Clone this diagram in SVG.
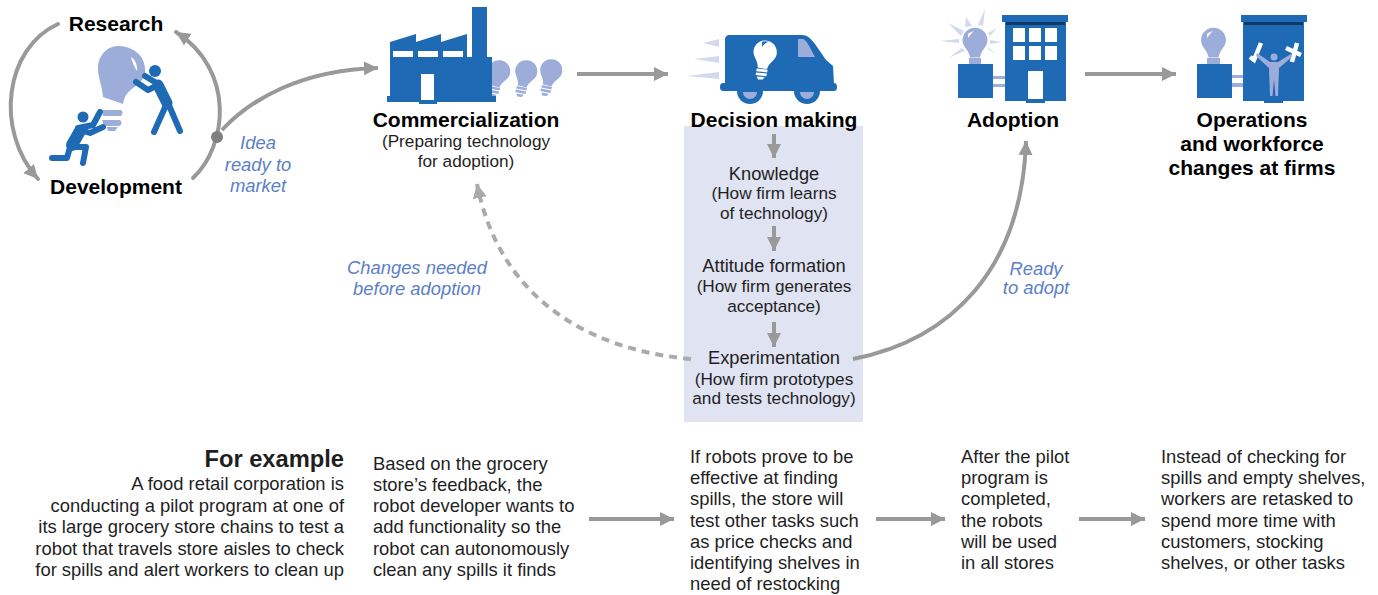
<svg xmlns="http://www.w3.org/2000/svg" width="1378" height="595" viewBox="0 0 1378 595">
<style>
text{font-family:"Liberation Sans",Arial,sans-serif;fill:#1f1f1f}
.h{font-size:21px;font-weight:700;fill:#000;text-anchor:middle}
.s{font-size:17.200px;text-anchor:middle}
.k{font-size:18.300px;text-anchor:middle}
.i{font-size:18.400px;font-style:italic;fill:#5b7fc7;text-anchor:middle}
.b{font-size:18.400px}
.r{font-size:18.400px;text-anchor:end}
.c{fill:none;stroke:#999;stroke-width:4}
.ic{fill:#1f6ab5}
.lt{fill:#9cadd9}
.w{fill:#fff}
.ray{fill:#d3d9ee}
.st{fill:none;stroke:#1f6ab5;stroke-linecap:round;stroke-linejoin:round}
</style>
<defs>
<marker id="a" markerUnits="userSpaceOnUse" markerWidth="16" markerHeight="16" refX="14" refY="8" orient="auto"><path d="M0,1L14,8L0,15Z" fill="#999"/></marker>
<marker id="d" markerUnits="userSpaceOnUse" markerWidth="16" markerHeight="16" refX="14" refY="8" orient="auto"><path d="M0,1L14,8L0,15Z" fill="#aaa"/></marker>
<path id="bulbtop" d="M0,-16C-9,-16-15,-9-15,-1C-15,6-9,10-7,16C-6.500,18-6,19-6,20L6,20C6,19,6.500,18,7,16C9,10,15,6,15,-1C15,-9,9,-16,0,-16Z"/>
<path id="bulbbase" d="M-7,21.500L7,20.500L7,24L-7,25ZM-7,26.500L7,25.500L7,29L-7,30ZM-5,31.500L5,30.500L3,34L-3,35Z"/>
</defs>
<rect x="684" y="126" width="179" height="296" fill="#dfe3f2"/>
<g id="connectors">
<path class="c" d="M58,24C5,48-6,130 38,179" marker-end="url(#a)" stroke-linecap="round"/>
<path class="c" d="M193,178C228,145 235,70 176,32" marker-end="url(#a)" stroke-linecap="round"/>
<path class="c" d="M222,130C250,100 300,70 378,68" marker-end="url(#a)"/>
<path class="c" d="M577,74L668,74" marker-end="url(#a)"/>
<path class="c" d="M1085,74L1176,74" marker-end="url(#a)"/>
<path class="c" d="M589,519L674,519" marker-end="url(#a)"/>
<path class="c" d="M876,519L945,519" marker-end="url(#a)"/>
<path class="c" d="M1079,519L1145,519" marker-end="url(#a)"/>
<path class="c" style="stroke:#aaa" d="M691,359C590,350 500,300 477,184" stroke-dasharray="8 6" marker-end="url(#d)"/>
<path class="c" d="M853,359C950,340 1022,270 1026,141" marker-end="url(#a)"/>
<path class="c" d="M774,134L774,158" marker-end="url(#a)"/>
<path class="c" d="M774,226L774,251" marker-end="url(#a)"/>
<path class="c" d="M774,322L774,347" marker-end="url(#a)"/>
<circle cx="217" cy="137" r="6" fill="#808080"/>
</g>
<g id="rd">
<text class="h" x="116" y="31">Research</text>
<text class="h" x="116" y="194">Development</text>
<path class="lt" d="M120,46C108,45 98,55 98,68C98,78 102,85 103,97L123,104C124,96 128,92 133,88C142,82 146,76 145,68C144,55 133,47 120,46Z"/>
<path class="w" d="M131,57C134,58 138,65 137,71C135,68 132,62 131,57Z"/>
<path class="lt" d="M103,110L121,110Q124,112.500 121,116L103,116ZM102,120L120,120Q123,122.500 120,126L104,126ZM107,127L118,127L115,131L108,131Z"/>
<circle class="ic" cx="155" cy="71" r="6"/>
<path class="st" stroke-width="11" d="M158,85L167,103"/>
<path class="st" stroke-width="6" d="M136,82L148,90L158,85M145,76L158,84M167,103L154,132M168,103L180,131"/>
<circle class="ic" cx="83" cy="117" r="5.500"/>
<path class="st" stroke-width="12" d="M80,131L72,145"/>
<path class="st" stroke-width="6" d="M78,128L93,125L100,112M80,130L90,133L103,127M70,147L67,158L52,158M70,147L86,147L83,163"/>
</g>
<g id="idea"><text class="i" x="258" y="149">Idea</text><text class="i" x="258" y="171">ready to</text><text class="i" x="258" y="192">market</text></g>
<g id="commercialization">
<g class="lt"><g transform="translate(499,72) rotate(15) scale(.74)"><use href="#bulbtop"/><use href="#bulbbase"/></g><g transform="translate(526,72) rotate(15) scale(.74)"><use href="#bulbtop"/><use href="#bulbbase"/></g><g transform="translate(551,71) rotate(15) scale(.74)"><use href="#bulbtop"/><use href="#bulbbase"/></g></g>
<path class="ic" d="M390,42L416,34L416,42L441,34L441,42L467,34L467,57L472,57L472,7L487,7L487,57L492,57L492,96L496,96L496,102L437,102L437,104L419,104L419,102L387,102L387,96L390,96Z"/>
<path class="w" d="M393,51H413V57H393ZM418,51H438V57H418ZM443,51H463V57H443ZM421,74H434V100H421Z"/>
<text class="h" x="466" y="127">Commercialization</text>
<text class="s" x="466" y="147">(Preparing technology</text><text class="s" x="466" y="167">for adoption)</text>
</g>
<g id="decision">
<path class="ray" d="M703,43L719,39L719,47ZM694,59L719,56L719,63ZM687,76L719,72L719,79Z"/>
<path class="ic" d="M729,35L802,35C808,35,811,39,815,44L826,60L833,66L834,84L725,84L725,39C725,37,727,35,729,35Z"/>
<path class="ic" d="M723,83H834Q837,83 837,87Q837,91 834,91H723Q720,91 720,87Q720,83 723,83Z"/>
<circle class="ic" cx="750" cy="91" r="13"/><circle class="ic" cx="807" cy="91" r="13"/>
<path class="lt" d="M743,92A7,7,0,0,0,757,92ZM800,92A7,7,0,0,0,814,92Z"/>
<path class="lt" d="M798,39L803,39C807,40,811,50,815,57L798,57Z"/>
<g class="w" transform="translate(765,53) rotate(10) scale(.78)"><use href="#bulbtop"/><use href="#bulbbase"/></g>
<path class="ic" d="M762,42C764,41,767,41,769,42C766,42,764,44,762,47Z"/>
<text class="h" x="774" y="127">Decision making</text>
<text class="k" x="774" y="180">Knowledge</text>
<text class="s" x="774" y="199">(How firm learns</text><text class="s" x="774" y="219">of technology)</text>
<text class="k" x="774" y="272">Attitude formation</text>
<text class="s" x="774" y="292">(How firm generates</text><text class="s" x="774" y="312">acceptance)</text>
<text class="k" x="774" y="364">Experimentation</text>
<text class="s" x="774" y="385">(How firm prototypes</text><text class="s" x="774" y="404">and tests technology)</text>
</g>
<g id="adoption">
<path class="ray" d="M985,9L978,25L983,26ZM966,17L965,27L972,26ZM948,23L961,36L964,31ZM940,41L959,39L959,43ZM950,57L962,48L965,51ZM997,28L988,33L990,36ZM1002,42L990,40L990,44ZM998,55L987,47L989,50Z"/>
<use href="#bulbtop" class="lt" transform="translate(975,41) scale(.83)"/>
<path class="lt" d="M969,58H981V64H969Z"/>
<path class="w" d="M968,34C970,32,972,32,974,31C971,33,970,36,968,38Z"/>
<rect class="ic" x="958" y="64" width="35" height="34"/>
<path class="lt" d="M993,76H1005V79H993ZM993,84H1005V87H993Z"/>
<rect class="ic" x="1002" y="15" width="66" height="7"/>
<rect class="ic" x="1005" y="22" width="61" height="79"/>
<rect class="ic" x="1026" y="101" width="19" height="2"/>
<rect x="1006" y="22" width="59" height="3" fill="#103a66"/>
<path class="w" d="M1013,28H1025V42H1013ZM1029,28H1041V42H1029ZM1045,28H1057V42H1045ZM1013,46H1025V60H1013ZM1029,46H1041V60H1029ZM1045,46H1057V60H1045ZM1028,71H1043V99H1028Z"/>
<text class="h" x="1013" y="127">Adoption</text>
<g><text class="i" x="1036" y="275">Ready</text><text class="i" x="1036" y="294">to adopt</text></g>
</g>
<g id="operations">
<use href="#bulbtop" class="lt" transform="translate(1213.500,41) scale(.83)"/>
<path class="lt" d="M1207,58H1220V64H1207Z"/>
<path class="w" d="M1207,34C1209,32,1211,32,1213,31C1210,33,1209,36,1207,38Z"/>
<rect class="ic" x="1197" y="64" width="35" height="34"/>
<path class="lt" d="M1232,75H1244V78H1232ZM1232,83H1244V87H1232Z"/>
<rect class="ic" x="1241" y="15" width="66" height="7"/>
<rect class="ic" x="1243" y="22" width="61" height="79"/>
<rect class="ic" x="1264" y="101" width="19" height="2"/>
<rect x="1244" y="22" width="59" height="3" fill="#103a66"/>
<path d="M1250,57L1254,60L1261,43M1286,48L1301,55M1297,43L1292,62" fill="none" stroke="#fff" stroke-width="4.500"/>
<circle class="lt" cx="1274" cy="57" r="3.500"/>
<path class="lt" d="M1257,53L1270,62L1278,62L1291,54L1292,57L1279,68L1278,96L1275.500,96L1274,79L1272.500,96L1270,96L1269,68L1256,56Z"/>
<text class="h" x="1252" y="127">Operations</text><text class="h" x="1252" y="151">and workforce</text><text class="h" x="1252" y="175">changes at firms</text>
</g>
<g id="changes"><text class="i" x="417" y="274">Changes needed</text><text class="i" x="417" y="295">before adoption</text></g>
<g id="examples">
<text x="344" y="467" text-anchor="end" font-size="23.700" font-weight="700" fill="#222">For example</text>
<text class="r" x="344" y="490">A food retail corporation is</text>
<text class="r" x="344" y="512">conducting a pilot program at one of</text>
<text class="r" x="344" y="533">its large grocery store chains to test a</text>
<text class="r" x="344" y="555">robot that travels store aisles to check</text>
<text class="r" x="344" y="576">for spills and alert workers to clean up</text>
<g class="b"><text x="373" y="470">Based on the grocery</text><text x="373" y="491">store’s feedback, the</text><text x="373" y="512">robot developer wants to</text><text x="373" y="533">add functionality so the</text><text x="373" y="555">robot can autonomously</text><text x="373" y="576">clean any spills it finds</text>
<text x="690" y="463">If robots prove to be</text><text x="690" y="484">effective at finding</text><text x="690" y="505">spills, the store will</text><text x="690" y="527">test other tasks such</text><text x="690" y="548">as price checks and</text><text x="690" y="569">identifying shelves in</text><text x="690" y="590">need of restocking</text>
<text x="961" y="463">After the pilot</text><text x="961" y="484">program is</text><text x="961" y="505">completed,</text><text x="961" y="527">the robots</text><text x="961" y="548">will be used</text><text x="961" y="569">in all stores</text>
<text x="1161" y="463">Instead of checking for</text><text x="1161" y="484">spills and empty shelves,</text><text x="1161" y="505">workers are retasked to</text><text x="1161" y="527">spend more time with</text><text x="1161" y="548">customers, stocking</text><text x="1161" y="569">shelves, or other tasks</text></g>
</g>
</svg>
